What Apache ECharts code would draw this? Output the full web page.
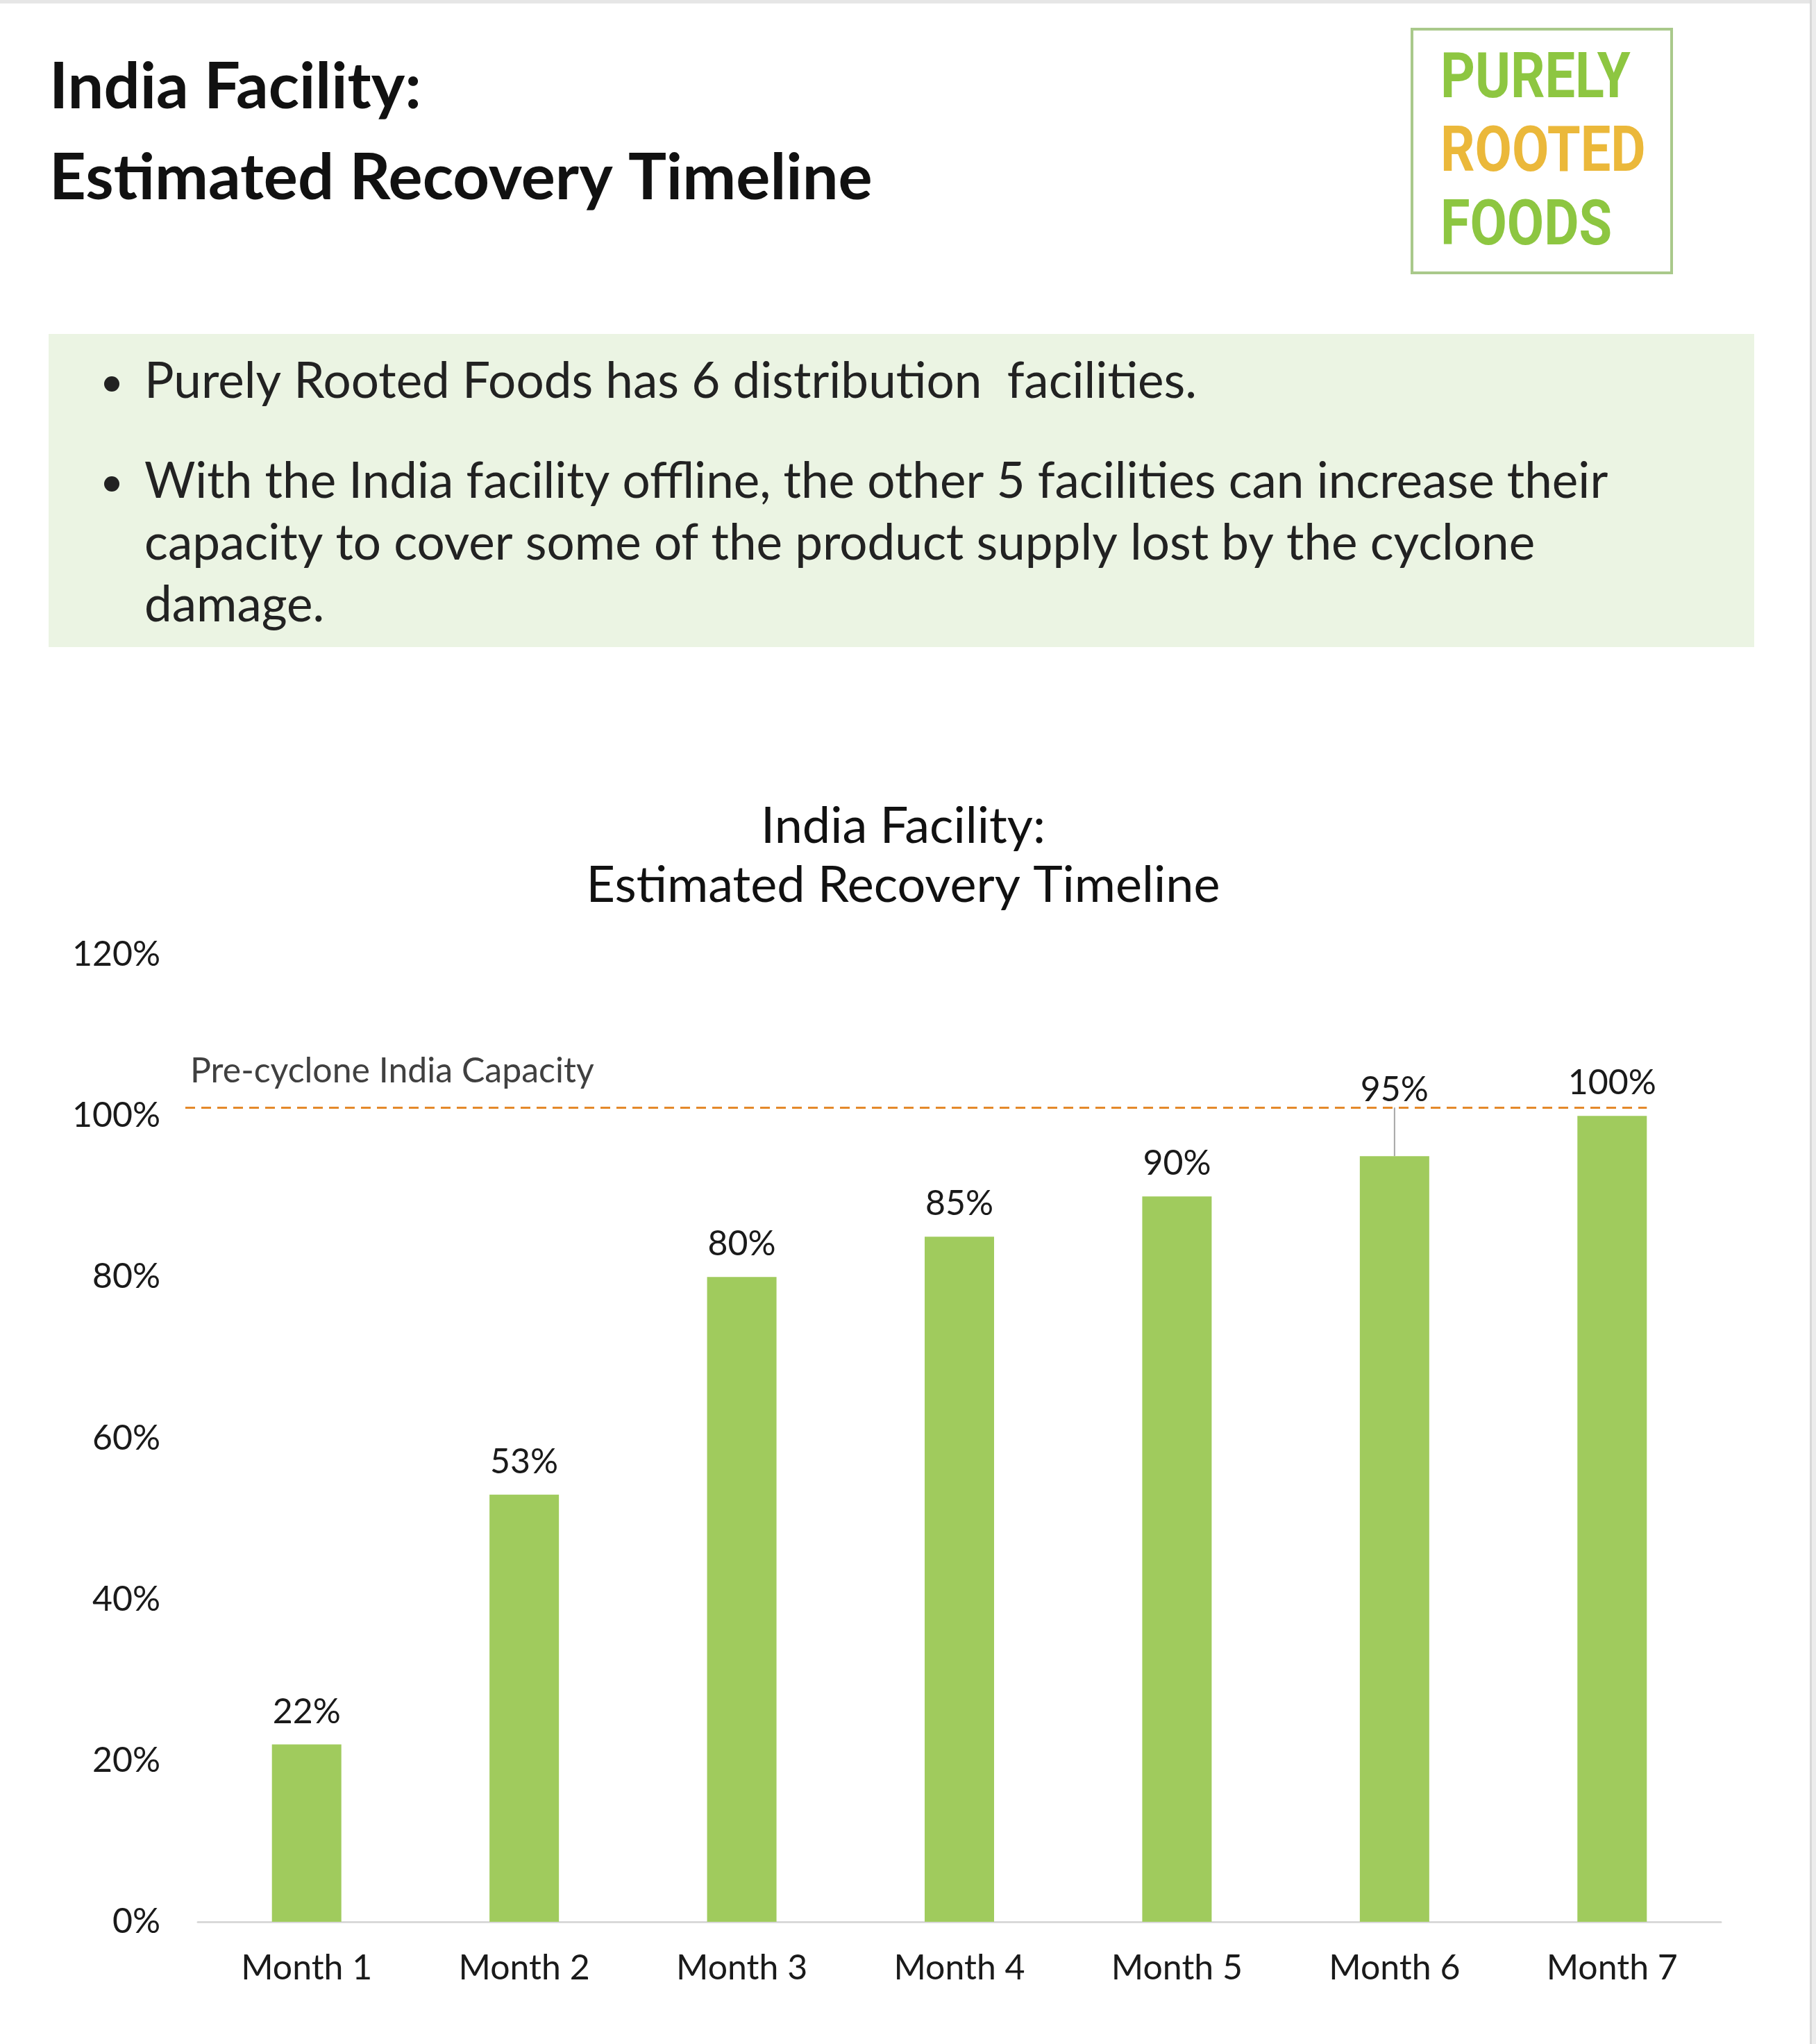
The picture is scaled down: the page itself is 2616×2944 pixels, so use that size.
<!DOCTYPE html>
<html>
<head>
<meta charset="utf-8">
<title>India Facility: Estimated Recovery Timeline</title>
<script src="https://cdn.jsdelivr.net/npm/echarts@6/dist/echarts.min.js"></script>
<style>
  html, body { margin: 0; padding: 0; background: #fff; }
  #main { width: 2616px; height: 2944px; }
</style>
</head>
<body>
<div id="main"></div>
<script>
// chart data
const categories = ['Month 1', 'Month 2', 'Month 3', 'Month 4', 'Month 5', 'Month 6', 'Month 7'];
const recovery = [22, 53, 80, 85, 90, 95, 100];
const capacityLevel = [101];
const capacityLabel = 'Pre-cyclone India Capacity';
const yMin = 0, yMax = 120, yStep = 20;

// slide text
const pageTitle = ['India Facility:', 'Estimated Recovery Timeline'];
const chartTitle = 'India Facility:\nEstimated Recovery Timeline';
const logoWords = ['PURELY', 'ROOTED', 'FOODS'];
const bulletLines = [
    ['Purely Rooted Foods has 6 distribution  facilities.'],
    ['With the India facility offline, the other 5 facilities can increase their',
     'capacity to cover some of the product supply lost by the cyclone',
     'damage.']
];

const FONT = 'Lato, "Noto Sans", sans-serif';
const myChart = echarts.init(document.getElementById('main'));

// slide decoration: title, logo, bullet panel
const graphics = [
    { type: 'rect', shape: { x: 0, y: 0, width: 2616, height: 5 }, style: { fill: '#e6e6e6' } },
    { type: 'rect', shape: { x: 2607, y: 0, width: 9, height: 2944 }, style: { fill: '#ececec' } },
    { type: 'rect', shape: { x: 2607, y: 0, width: 3, height: 2944 }, style: { fill: '#d8d8d8' } },
    { type: 'rect', shape: { x: 70, y: 481, width: 2457, height: 451 }, style: { fill: '#ebf4e3' } },
    { type: 'rect', shape: { x: 2034, y: 42, width: 374, height: 351 },
      style: { fill: 'none', stroke: '#a9c98b', lineWidth: 4 } }
];
pageTitle.forEach((t, i) => {
    graphics.push({
        type: 'text', x: 71, y: 126 + i * 131,
        style: { text: t, fill: '#111', font: 'bold 92px ' + FONT, textVerticalAlign: 'middle' }
    });
});
const logoColors = ['#8dc641', '#ebb83a', '#8dc641'];
logoWords.forEach((w, i) => {
    graphics.push({
        type: 'text', x: 2075, y: 117 + i * 106, scaleX: 0.86,
        style: { text: w, fill: logoColors[i], font: 'bold 90px Roboto, sans-serif', textVerticalAlign: 'middle' }
    });
});
let lineY = 550;
bulletLines.forEach((lines, b) => {
    if (b > 0) lineY += 144;
    graphics.push({ type: 'circle', shape: { cx: 161, cy: lineY + 3, r: 11 }, style: { fill: '#222' } });
    lines.forEach((t, k) => {
        if (k > 0) lineY += 89;
        graphics.push({
            type: 'text', x: 208, y: lineY,
            style: { text: t, fill: '#222', font: '71px ' + FONT, textVerticalAlign: 'middle' }
        });
    });
});

const option = {
    backgroundColor: '#fff',
    animation: false,
    title: {
        text: chartTitle,
        left: 1301,
        top: 1148,
        padding: 0,
        textAlign: 'center',
        textStyle: { fontFamily: FONT, fontWeight: 'normal', fontSize: 72, lineHeight: 85, color: '#111' }
    },
    graphic: graphics,
    grid: { left: 285, right: 137, top: 1375, bottom: 176 },
    xAxis: {
        type: 'category',
        data: categories,
        axisLine: { lineStyle: { color: '#d9d9d9', width: 3 } },
        axisTick: { show: false },
        axisLabel: { fontFamily: FONT, fontSize: 50, color: '#1a1a1a', margin: 42 }
    },
    yAxis: {
        type: 'value',
        min: yMin,
        max: yMax,
        interval: yStep,
        axisLine: { show: false },
        axisTick: { show: false },
        splitLine: { show: false },
        axisLabel: { fontFamily: FONT, fontSize: 50, color: '#1a1a1a', margin: 54, formatter: '{value}%' }
    },
    series: [
        {
            type: 'bar',
            // the Month 6 label is lifted above the capacity line with a leader line
            data: recovery.map((v, i) => i === 5
                ? { value: v, labelLine: { show: true, lineStyle: { color: '#a6a6a6', width: 2 } } }
                : v),
            barWidth: 100,
            itemStyle: { color: '#a0cb5d' },
            label: {
                show: true,
                position: 'top',
                distance: 22,
                formatter: '{c}%',
                fontFamily: FONT,
                fontSize: 50,
                color: '#1a1a1a'
            },
            labelLayout: function (params) {
                return params.dataIndex === 5 ? { dy: -48 } : {};
            },
            labelLine: { show: false }
        },
        {
            type: 'custom',
            data: capacityLevel.map(v => [categories.length - 1, v]),
            silent: true,
            z: 5,
            renderItem: function (params, api) {
                const end = api.coord([api.value(0), api.value(1)]);
                const x1 = params.coordSys.x - 18;
                const x2 = end[0] + 50;
                return {
                    type: 'group',
                    children: [
                        {
                            type: 'line',
                            shape: { x1: x1, y1: end[1], x2: x2, y2: end[1] },
                            style: { stroke: '#e4892b', lineWidth: 3, lineDash: [14, 9] }
                        },
                        {
                            type: 'text',
                            x: x1 + 7,
                            y: end[1] - 53,
                            style: {
                                text: capacityLabel, fill: '#404040',
                                font: '50px ' + FONT, textVerticalAlign: 'middle'
                            }
                        }
                    ]
                };
            }
        }
    ]
};
myChart.setOption(option);
</script>
</body>
</html>
